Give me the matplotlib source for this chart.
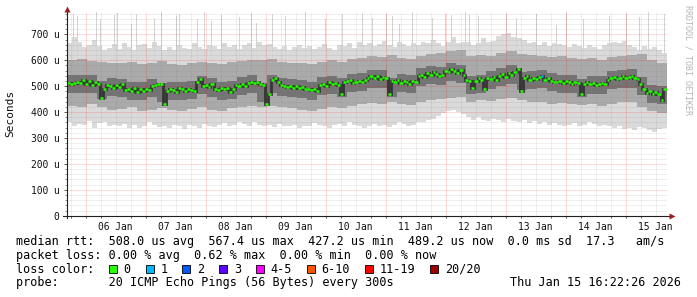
import numpy as np
import matplotlib
matplotlib.use("Agg")
import matplotlib.pyplot as plt
from matplotlib.patches import Rectangle

# hours relative to 06 Jan 00:00; the graph covers 240 h ending 15 Jan 16:22
T0 = -7.633
SPAN = 240.0

# median rtt (us), one value every 1.2 h
median_rtt = [
    511, 508, 514, 518, 512, 525, 510, 520, 505, 515,
    508, 455, 490, 505, 500, 495, 503, 498, 510, 485,
    490, 480, 492, 478, 488, 482, 490, 485, 500, 505,
    508, 510, 430, 480, 490, 485, 478, 492, 488, 482,
    490, 486, 480, 515, 528, 500, 505, 498, 510, 490,
    485, 495, 488, 492, 478, 490, 505, 500, 508, 502,
    512, 515, 514, 516, 510, 505, 432, 470, 525, 532,
    518, 505, 500, 498, 502, 495, 500, 492, 498, 490,
    488, 485, 490, 482, 505, 510, 500, 515, 508, 512,
    505, 470, 515, 520, 525, 512, 518, 522, 515, 525,
    530, 538, 532, 540, 528, 535, 530, 470, 520, 515,
    525, 512, 520, 518, 510, 522, 515, 540, 545, 535,
    550, 542, 555, 548, 538, 545, 560, 555, 565, 558,
    550, 562, 545, 525, 520, 495, 522, 530, 525, 490,
    532, 528, 535, 525, 540, 548, 535, 550, 545, 555,
    567, 480, 530, 538, 525, 532, 528, 535, 540, 525,
    530, 522, 518, 515, 520, 512, 522, 516, 510, 518,
    514, 470, 510, 515, 508, 512, 505, 510, 514, 508,
    525, 530, 535, 528, 532, 538, 530, 535, 540, 532,
    528, 510, 490, 475, 480, 470, 478, 468, 445, 489,
]
loss_one = [158]   # median step where 1 of 20 pings was lost

# outermost pings (us), one value every 2 h
ping_max = [
    665, 690, 672, 650, 660, 680, 655, 640, 648, 662,
    645, 668, 650, 640, 658, 662, 648, 670, 655, 640,
    652, 640, 660, 648, 642, 665, 650, 645, 660, 655,
    645, 668, 650, 660, 642, 658, 665, 648, 670, 660,
    662, 650, 645, 655, 640, 650, 660, 648, 655, 645,
    650, 662, 648, 640, 660, 655, 665, 648, 672, 660,
    668, 655, 662, 675, 660, 650, 670, 662, 655, 668,
    660, 672, 665, 680, 668, 655, 672, 690, 665, 670,
    672, 660, 668, 685, 670, 675, 695, 700, 705, 690,
    688, 680, 665, 672, 660, 670, 655, 668, 662, 658,
    650, 662, 655, 648, 660, 652, 645, 660, 665, 670,
    668, 675, 660, 650, 640, 655, 645, 650, 640, 630,
]
ping_min = [
    360, 345, 355, 350, 365, 340, 358, 362, 348, 352,
    345, 355, 340, 350, 338, 345, 360, 350, 342, 348,
    340, 352, 345, 335, 350, 345, 338, 355, 348, 342,
    350, 358, 345, 352, 362, 355, 348, 360, 352, 345,
    350, 342, 355, 348, 345, 352, 340, 348, 345, 358,
    352, 345, 340, 350, 355, 348, 362, 352, 345, 340,
    348, 355, 345, 352, 342, 350, 360, 355, 348, 352,
    360, 362, 368, 375, 385, 395, 405, 410, 400, 392,
    380, 368, 380, 370, 365, 375, 368, 360, 372, 365,
    362, 370, 358, 365, 355, 362, 350, 358, 352, 348,
    352, 358, 345, 350, 360, 355, 348, 352, 345, 340,
    345, 335, 340, 330, 342, 338, 330, 325, 335, 340,
]

# inner smoke bands (us), one value every 4 h
ping_p80 = [
    600, 605, 598, 592, 590, 588, 595, 585, 590, 598,
    585, 582, 590, 595, 588, 585, 592, 596, 600, 602,
    605, 595, 590, 588, 585, 595, 600, 592, 605, 610,
    615, 612, 620, 610, 606, 615, 625, 630, 635, 640,
    615, 620, 618, 630, 635, 625, 622, 618, 612, 615,
    608, 605, 610, 602, 612, 618, 622, 625, 600, 590,
]
ping_p20 = [
    425, 420, 430, 418, 410, 412, 420, 405, 410, 415,
    408, 405, 412, 418, 410, 405, 415, 420, 425, 420,
    425, 420, 415, 410, 405, 412, 420, 415, 425, 430,
    435, 430, 440, 432, 428, 438, 445, 450, 455, 458,
    440, 445, 442, 450, 455, 445, 440, 438, 432, 435,
    430, 428, 432, 425, 430, 438, 440, 420, 405, 395,
]
ping_p65 = [
    542, 545, 542, 522, 532, 528, 515, 516, 528, 512,
    515, 515, 520, 540, 530, 518, 520, 535, 542, 512,
    545, 532, 527, 523, 516, 535, 538, 530, 548, 550,
    563, 564, 530, 547, 545, 570, 578, 575, 590, 582,
    540, 545, 560, 570, 580, 555, 560, 562, 550, 545,
    542, 528, 540, 540, 560, 562, 565, 535, 506, 500,
]
ping_p35 = [
    472, 475, 472, 450, 462, 458, 445, 446, 458, 440,
    445, 445, 450, 470, 460, 448, 450, 465, 472, 440,
    475, 462, 457, 453, 446, 465, 468, 460, 478, 480,
    493, 494, 460, 477, 475, 500, 508, 505, 520, 512,
    470, 475, 490, 500, 510, 485, 490, 492, 480, 475,
    472, 458, 470, 470, 490, 492, 495, 465, 436, 430,
]

# single slow pings reaching towards the top
spike_hours = [-5.0, -3.4, 4.2, 5.8, 11.4, 12.6, 18.2, 20.2, 27.4, 30.2,
               36.2, 37.4, 44.6, 47.4, 50.2, 54.2, 61.4, 66.2, 68.2, 74.6,
               79.8, 87.8, 95.8, 102.6, 110.6, 114.6, 120.2, 122.6, 125.4, 130.6,
               138.6, 143.8, 146.2, 151.8, 153.4, 157.0, 168.2, 172.2, 180.2, 188.2,
               192.2, 199.0, 209.4, 216.2, 221.4, 225.0, 231.4]
spike_top = [780, 770, 785, 760, 775, 782, 740, 778, 765, 785,
             772, 780, 760, 785, 750, 776, 768, 782, 745, 780,
             770, 785, 760, 778, 782, 765, 780, 770, 740, 785,
             762, 780, 775, 785, 778, 770, 782, 765, 780, 735,
             785, 760, 772, 782, 768, 785, 778]

day_labels = ['06 Jan', '07 Jan', '08 Jan', '09 Jan', '10 Jan',
              '11 Jan', '12 Jan', '13 Jan', '14 Jan', '15 Jan']
loss_labels = ['0', '1', '2', '3', '4-5', '6-10', '11-19', '20/20']
loss_colors = ['#26ff00', '#00b8ff', '#0059ff', '#5e00ff',
               '#ff00ff', '#ff5500', '#ff0000', '#a00000']

stats_line = "median rtt:  508.0 us avg  567.4 us max  427.2 us min  489.2 us now  0.0 ms sd  17.3   am/s"
loss_line = "packet loss: 0.00 % avg  0.62 % max  0.00 % min  0.00 % now"
probe_line = "probe:       20 ICMP Echo Pings (56 Bytes) every 300s"
stamp = "Thu Jan 15 16:22:26 2026"

W, H = 697, 297
plt.rcParams['font.family'] = ['DejaVu Sans Mono']


def fpx(x, y):
    # pixel (from top-left) -> figure fraction
    return x / W, 1 - y / H


fig = plt.figure(figsize=(W / 100, H / 100), dpi=100)
fig.patch.set_facecolor('white')
X0, Y0 = 66.5, 215.7
ax = fig.add_axes([X0 / W, (H - Y0) / H, 600 / W, 203.3 / H])
ax.set_xlim(T0, T0 + SPAN)
ax.set_ylim(0, 785)
for s in ax.spines.values():
    s.set_visible(False)

def edges(n):
    return T0 + SPAN / n * np.arange(n + 1)

# smoke
ax.stairs(ping_max, edges(len(ping_max)), baseline=ping_min, fill=True,
          color='#dadada', lw=0, zorder=1)
ax.bar(spike_hours, np.array(spike_top) - 560, bottom=560, width=0.45,
       color='#d4d4d4', lw=0, zorder=1)
ax.stairs(ping_p80, edges(len(ping_p80)), baseline=ping_p20, fill=True,
          color='#aaaaaa', lw=0, zorder=1.1)
ax.stairs(ping_p65, edges(len(ping_p65)), baseline=ping_p35, fill=True,
          color='#747474', lw=0, zorder=1.2)

# grid (rrdtool style dotted, semi transparent over the smoke)
for v in range(20, 785, 20):
    major = v % 100 == 0
    ax.axhline(v, color='#ff0000' if major else '#808080',
               alpha=0.28 if major else 0.25, lw=0.72,
               linestyle=(0, (1, 1)), zorder=2)
for h in np.arange(-6, 233, 6):
    major = h % 24 == 0
    ax.axvline(h, color='#ff0000' if major else '#808080',
               alpha=0.28 if major else 0.25, lw=0.72,
               linestyle=(0, (1, 1)), zorder=2)

# median
em = edges(len(median_rtt))
ax.stairs(median_rtt, em, baseline=None, color='#353535', lw=2.0, zorder=3)
cols = [loss_colors[1] if i in loss_one else loss_colors[0]
        for i in range(len(median_rtt))]
ax.hlines(median_rtt, em[:-1], em[1:], colors=cols, lw=1.8, zorder=4)

# axes lines with arrows
px_h = SPAN / 600.0
px_v = 785 / 203.3
ax.plot([T0 - 3.5 * px_h, T0 + SPAN + 3 * px_h], [0, 0], color='#202020',
        lw=0.8, clip_on=False, zorder=5)
ax.plot([T0, T0], [-2 * px_v, 785 + 1 * px_v], color='#202020',
        lw=0.8, clip_on=False, zorder=5)
ax.plot([T0 + SPAN + 5.5 * px_h], [0], marker='>', ms=4.5, color='#9b1c1c',
        mec='none', clip_on=False, zorder=6)
ax.plot([T0], [785 + 3 * px_v], marker='^', ms=4.5, color='#9b1c1c',
        mec='none', clip_on=False, zorder=6)

# ticks
ax.set_xticks(np.arange(12, 229, 24), day_labels)
ax.set_xticks(np.arange(-6, 233, 6), minor=True)
ax.tick_params(axis='x', which='major', length=0, pad=4.2, labelsize=6.9,
               labelcolor='#111111')
ax.tick_params(axis='x', which='minor', length=1.6, width=0.6,
               color='#404040')
ax.set_yticks(range(0, 701, 100),
              ['0'] + ['%d u' % v for v in range(100, 701, 100)])
ax.set_yticks(range(0, 785, 20), minor=True)
ax.tick_params(axis='y', which='major', length=2.2, width=0.6, pad=3.0,
               labelsize=6.9, color='#404040', labelcolor='#111111')
ax.tick_params(axis='y', which='minor', length=1.2, width=0.5,
               color='#606060')

fig.text(*fpx(10.7, 113.5), 'Seconds', rotation=90, ha='center',
         va='center', fontsize=8, color='#111111')
fig.text(*fpx(688, 5), 'RRDTOOL / TOBI OETIKER', rotation=270,
         ha='center', va='top', fontsize=6, color='#b4b4b4')

# legend block
FS = 8.5
CW = 7.11
LX = 16.5
fig.text(*fpx(LX, 241.7), stats_line, ha='left', va='center', fontsize=FS)
fig.text(*fpx(LX, 255.7), loss_line, ha='left', va='center', fontsize=FS)
fig.text(*fpx(LX, 269.3), 'loss color:', ha='left', va='center', fontsize=FS)
col = 13.0
for lab, c in zip(loss_labels, loss_colors):
    bx = LX + col * CW
    fig.add_artist(Rectangle(fpx(bx, 273.3), 8 / W, 8 / H, facecolor=c,
                             edgecolor='#000000', lw=0.6,
                             transform=fig.transFigure))
    fig.text(*fpx(bx + 14.7, 269.3), lab, ha='left', va='center', fontsize=FS)
    col += len(lab) + 4.17
fig.text(*fpx(LX, 282.7), probe_line, ha='left', va='center', fontsize=FS)
fig.text(*fpx(681, 282.7), stamp, ha='right', va='center', fontsize=FS)

fig.savefig('out.png', dpi=100, facecolor='white')
